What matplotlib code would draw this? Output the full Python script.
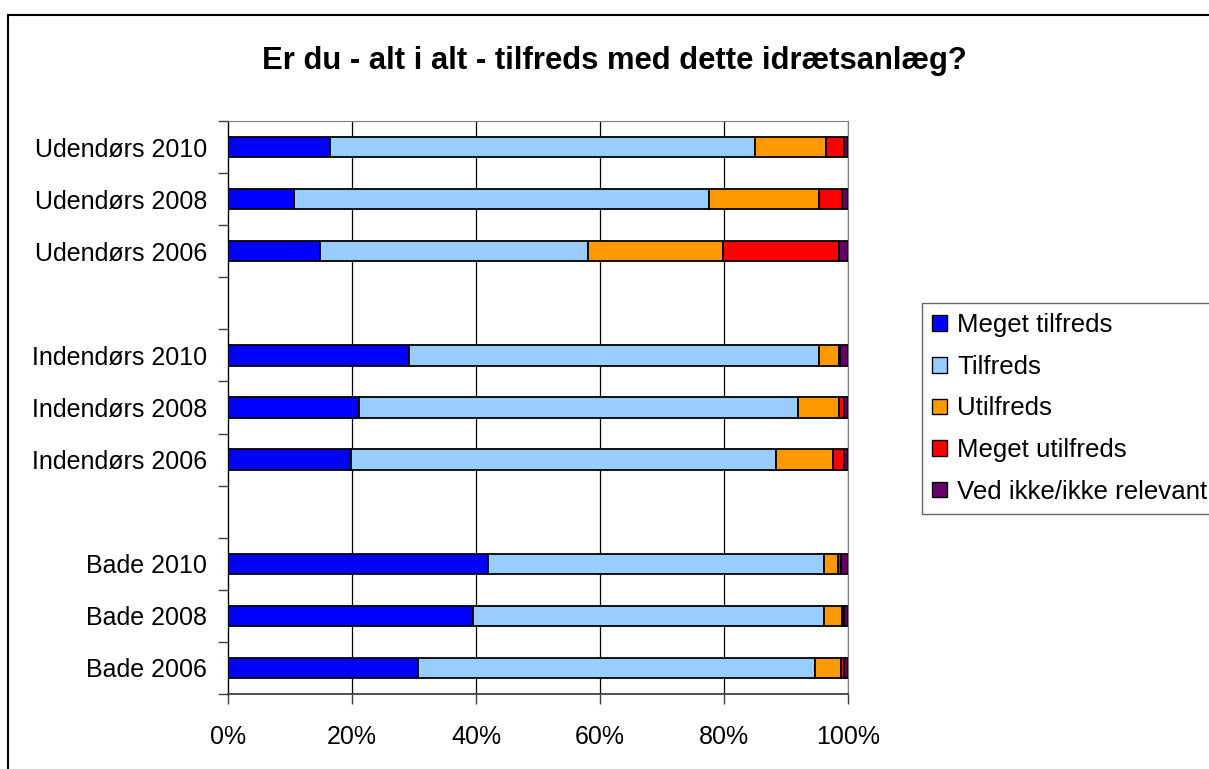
import matplotlib
matplotlib.use("Agg")
import matplotlib.pyplot as plt
import numpy as np
from matplotlib.lines import Line2D
from matplotlib.patches import Patch

plt.rcParams['font.family'] = ['Liberation Sans', 'DejaVu Sans']

title = "Er du - alt i alt - tilfreds med dette idrætsanlæg?"
groups = ["Udendørs", "Indendørs", "Bade"]
years = ["2010", "2008", "2006"]
series = ["Meget tilfreds", "Tilfreds", "Utilfreds", "Meget utilfreds", "Ved ikke/ikke relevant"]
colors = ["#0000FF", "#99CCFF", "#FF9900", "#FF0000", "#660066"]

# order: Udendørs 2010, 2008, 2006, Indendørs 2010, 2008, 2006, Bade 2010, 2008, 2006
meget_tilfreds = [16.4, 10.6, 14.8, 29.2, 21.2, 19.8, 42.0, 39.5, 30.6]
tilfreds = [68.6, 67.0, 43.2, 66.1, 70.7, 68.6, 54.2, 56.7, 64.1]
utilfreds = [11.5, 17.7, 21.8, 3.2, 6.6, 9.2, 2.2, 2.9, 4.1]
meget_utilfreds = [2.9, 3.8, 18.7, 0.2, 0.8, 1.7, 0.4, 0.2, 0.6]
ved_ikke = [0.6, 0.9, 1.5, 1.3, 0.7, 0.7, 1.2, 0.7, 0.6]
xtick_values = [0, 20, 40, 60, 80, 100]

values = [meget_tilfreds, tilfreds, utilfreds, meget_utilfreds, ved_ikke]

W, H = 1209, 769
fig = plt.figure(figsize=(W / 100, H / 100), dpi=100)
ax = fig.add_axes([228 / W, 1 - 694 / H, 620 / W, 573 / H])

slots_per_group = len(years) + 1
positions = []
labels = []
for gi, g in enumerate(groups):
    for yi, y in enumerate(years):
        positions.append(gi * slots_per_group + yi)
        labels.append(f"{g} {y}")
positions = np.array(positions)
n_slots = len(groups) * slots_per_group - 1

left = np.zeros(len(positions))
for name, vals, col in zip(series, values, colors):
    vals = np.array(vals)
    ax.barh(positions, vals, left=left, height=0.39, color=col,
            edgecolor='black', linewidth=1.3, label=name, zorder=3)
    left += vals

ax.set_xlim(0, 100)
ax.set_ylim(n_slots - 0.5, -0.5)

ax.set_xticks(xtick_values)
ax.set_xticklabels([f"{v}%" for v in xtick_values])
ax.set_yticks(positions)
ax.set_yticklabels(labels)
ax.set_yticks(np.arange(-0.5, n_slots, 1), minor=True)

ax.tick_params(axis='y', which='major', length=0, pad=15, labelsize=18)
ax.tick_params(axis='y', which='minor', length=7, width=1, color='#404040', direction='out')
ax.tick_params(axis='x', which='major', length=7, width=1, color='#404040', direction='out',
               pad=15, labelsize=18)

for v in xtick_values[1:]:
    ax.axvline(v, color='black', linewidth=0.9, zorder=1)

ax.spines['left'].set_color('black')
ax.spines['left'].set_linewidth(1.0)
ax.spines['bottom'].set_color('#404040')
ax.spines['bottom'].set_linewidth(1.3)
ax.spines['top'].set_color('#808080')
ax.spines['right'].set_color('#808080')

fig.text(614 / W, 1 - 69 / H, title, ha='center', va='baseline',
         fontsize=22.3, fontweight='bold')

handles = [Patch(facecolor=c, edgecolor='black', linewidth=1.0) for c in colors]
leg = fig.legend(handles, series, loc='upper left',
                 bbox_to_anchor=(922 / W, 1 - 303 / H), fontsize=18.6,
                 frameon=True, fancybox=False, shadow=False,
                 handlelength=0.55, handleheight=0.55, handletextpad=0.4,
                 labelspacing=0.68, borderpad=0.4, borderaxespad=0)
leg.get_frame().set_edgecolor('#404040')
leg.get_frame().set_linewidth(1.0)

fig.add_artist(Line2D([8 / W, 1], [1 - 15 / H, 1 - 15 / H], color='black', linewidth=1.5,
                      transform=fig.transFigure))
fig.add_artist(Line2D([8 / W, 8 / W], [0, 1 - 15 / H], color='black', linewidth=1.5,
                      transform=fig.transFigure))

fig.savefig("out.png", dpi=100)
